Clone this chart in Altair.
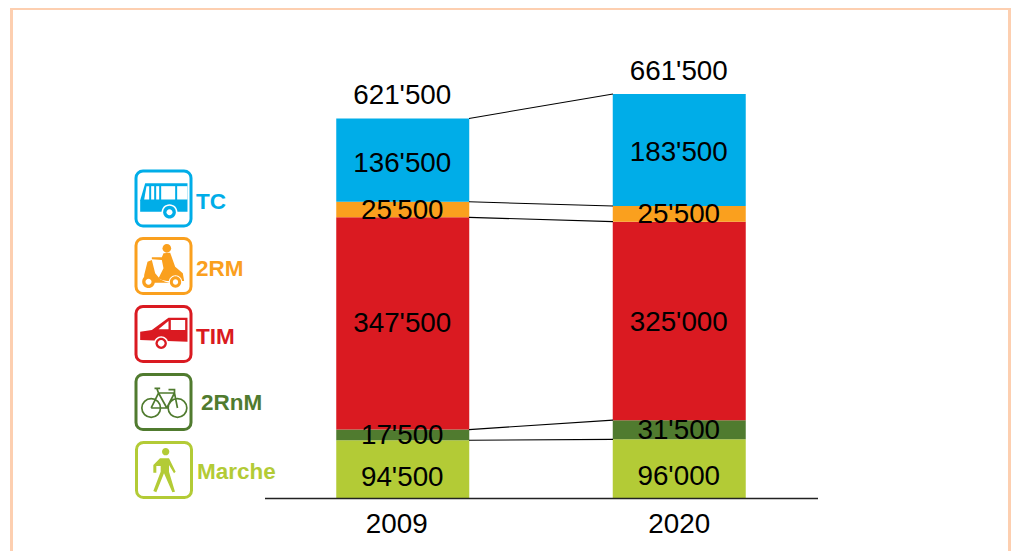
import altair as alt
import pandas as pd

years = ["2009", "2020"]
modes = ["Marche", "2RnM", "TIM", "2RM", "TC"]
colors = ["#B3CB36", "#507B2F", "#DA1A21", "#FAA01E", "#00ADE8"]
values_2009 = [94500, 17500, 347500, 25500, 136500]
values_2020 = [96000, 31500, 325000, 25500, 183500]
totals = [621500, 661500]
label_2009 = ["94'500", "17'500", "347'500", "25'500", "136'500"]
label_2020 = ["96'000", "31'500", "325'000", "25'500", "183'500"]
total_labels = ["621'500", "661'500"]

FONT = "Liberation Sans"
FS = 27.8

rows = []
for year, vals, labs in [("2009", values_2009, label_2009), ("2020", values_2020, label_2020)]:
    base = 0
    for mode, v, lab in zip(modes, vals, labs):
        rows.append(dict(year=year, mode=mode, start=base, end=base + v, mid=base + v / 2, label=lab))
        base += v
df = pd.DataFrame(rows)

tops_2009 = df[df.year == "2009"].end.tolist()
tops_2020 = df[df.year == "2020"].end.tolist()
links = pd.DataFrame({"a": tops_2009, "b": tops_2020})
df_tot = pd.DataFrame({"year": years, "total": totals, "label": total_labels})

x_scale = alt.Scale(domain=years, range=[256.5, 809.5], paddingInner=0.519, paddingOuter=0.2595)
y_scale = alt.Scale(domain=[0, 661500], range=[490, 86], nice=False, zero=False)
x_enc = alt.X("year:N", scale=x_scale, title=None,
              axis=alt.Axis(labelFontSize=FS, labelFont=FONT, labelColor="#000000", labelAngle=0,
                            labelPadding=12, ticks=False, domainColor="#222222", domainWidth=1.3,
                            labelOffset=alt.ExprRef("datum.value == '2009' ? -6 : 0"),
                            grid=False, zindex=1))
y_enc = alt.Y("start:Q", scale=y_scale, axis=None, title=None)

layers = []
dummy = pd.DataFrame({"k": [0]})

# frame: left, top and right sides; the bottom lies outside the picture
FRAME = "#FDCFB0"
for kw in [dict(x=alt.value(3.5), y=alt.value(0.5), y2=alt.value(543)),
           dict(x=alt.value(1001.5), y=alt.value(0.5), y2=alt.value(543)),
           dict(x=alt.value(2), x2=alt.value(1003), y=alt.value(0.5))]:
    layers.append(alt.Chart(dummy).mark_rule(color=FRAME, strokeWidth=3).encode(**kw))

# bars
layers.append(alt.Chart(df).mark_bar(opacity=1).encode(
    x=x_enc, y=y_enc, y2="end:Q",
    color=alt.Color("mode:N", scale=alt.Scale(domain=modes, range=colors), legend=None)))

# connectors
layers.append(alt.Chart(links).mark_rule(color="#000000", strokeWidth=1.1).encode(
    x=alt.value(461), x2=alt.value(605),
    y=alt.Y("a:Q", scale=y_scale, axis=None, title=None), y2="b:Q"))

# value labels
offsets_2009 = {"Marche": 9, "2RnM": 1, "TIM": 1, "2RM": 1, "TC": 4}
offsets_2020 = {"Marche": 8, "2RnM": 1.5, "TIM": 2, "2RM": 1, "TC": 2.5}
for m in modes:
    for yr, off in [("2009", offsets_2009), ("2020", offsets_2020)]:
        layers.append(alt.Chart(df[(df["mode"] == m) & (df.year == yr)]).mark_text(
            font=FONT, fontSize=FS, color="#000000", dx=-0.5, dy=off[m], baseline="middle").encode(
            x=x_enc,
            y=alt.Y("mid:Q", scale=y_scale, axis=None, title=None),
            text="label:N"))
layers.append(alt.Chart(df_tot).mark_text(
    font=FONT, fontSize=FS, color="#000000", dx=-0.5, dy=-22, baseline="middle").encode(
    x=x_enc,
    y=alt.Y("total:Q", scale=y_scale, axis=None, title=None),
    text="label:N"))


def circ(cx, cy, r):
    return f"M{cx-r},{cy}A{r},{r} 0 1 0 {cx+r},{cy}A{r},{r} 0 1 0 {cx-r},{cy}Z"


WHITE = "#FFFFFF"
BUS, SCO, CAR, BIK, WAL = "#00ADE8", "#FAA01E", "#DA1A21", "#507B2F", "#B3CB36"
# glyph paths in a local box of about +-88 units, centred on the icon
glyphs = {
    "TC": (BUS, [
        ("M-70,40L-70,5L-55,-46L72,-46L72,40Z", BUS, False),
        ("M-51,-37L-43,-37L-43,3L-58,3Z", WHITE, False),
        ("M-37,-37L-28,-37L-28,3L-37,3Z", WHITE, False),
        ("M-22,-37L-13,-37L-13,3L-22,3Z", WHITE, False),
        ("M-7,-37L35,-37L35,3L-7,3Z", WHITE, False),
        ("M41,-37L72,-37L72,3L41,3Z", WHITE, False),
        (circ(18, 41, 24), WHITE, False),
        (circ(18, 41, 19), BUS, False),
        (circ(18, 41, 9), WHITE, False),
    ]),
    "2RM": (SCO, [
        (circ(10, -53, 13), SCO, False),
        ("M0,-38L20,-40L35,2L58,22L62,45L10,45L-5,42L-15,37L0,7L-5,-18L-35,-20L-35,-26L-5,-26Z", SCO, False),
        ("M-58,27L-48,-13L-35,-18L-25,22L-10,40L5,47L20,50L-58,50Z", SCO, False),
        (circ(-45, 47, 19), SCO, False),
        (circ(-45, 47, 9), WHITE, False),
        (circ(36, 48, 20), WHITE, False),
        (circ(36, 48, 17), SCO, False),
        (circ(36, 48, 8), WHITE, False),
    ]),
    "TIM": (CAR, [
        ("M-70,-7L-35,-12L15,-49L72,-49L72,23L-70,18Z", CAR, False),
        ("M-15,-14L15,-39L15,-14Z", WHITE, False),
        ("M22,-42L65,-42L65,-12L22,-12Z", WHITE, False),
        (circ(-7, 28, 21), WHITE, False),
        (circ(-7, 28, 17), CAR, False),
        (circ(-7, 28, 10), WHITE, False),
    ]),
    "2RnM": (BIK, [
        (circ(-37, 18, 28) + circ(42, 18, 28)
         + "M-37,18L-15,-27L33,-27L42,18M-15,-27L10,18L-37,18M10,18L33,-27"
           "M-27,-41L-10,-41M-15,-27L-20,-41M15,-37L33,-37L33,-27", None, True),
    ]),
    "Marche": (WAL, [
        (circ(5, -55, 11), WAL, False),
        ("M-12,-35L15,-35L35,5L30,10L15,-15L15,5L33,65L25,67L0,10L-23,67L-32,63L-10,5L-10,-12L-23,-12L-23,8L-32,8L-32,-15Z", WAL, False),
    ]),
}

# icons and their captions, top to bottom
icon_modes = ["TC", "2RM", "TIM", "2RnM", "Marche"]
icon_center_y = [190.5, 258, 326, 394, 462]
icon_center_x = [155.5, 155.5, 155.5, 155.5, 156]
text_x = [188, 188, 188, 193, 189]
text_y = [194, 261, 329, 394.5, 464]
for m, cy, cx, tx, ty in zip(icon_modes, icon_center_y, icon_center_x, text_x, text_y):
    col, parts = glyphs[m]
    layers.append(alt.Chart(dummy).mark_rect(
        fill=WHITE, stroke=col, strokeWidth=3, cornerRadius=7).encode(
        x=alt.value(cx - 27.5), x2=alt.value(cx + 27.5),
        y=alt.value(cy - 27.5), y2=alt.value(cy + 27.5)))
    for path, fill, stroked in parts:
        if stroked:
            mk = alt.Chart(dummy).mark_point(shape=path, size=0.444, filled=False, stroke=col, strokeWidth=1.7, opacity=1)
        else:
            mk = alt.Chart(dummy).mark_point(shape=path, size=0.444, filled=True, fill=fill, opacity=1)
        layers.append(mk.encode(x=alt.value(cx), y=alt.value(cy)))
    layers.append(alt.Chart(dummy).mark_text(
        text=m, font=FONT, fontSize=22.5, fontWeight="bold", color=col, align="left", baseline="middle").encode(
        x=alt.value(tx), y=alt.value(ty)))

chart = alt.layer(*layers).properties(
    width=1003, height=490,
    padding={"left": 0, "top": 0, "right": 0, "bottom": 53},
    autosize=alt.AutoSizeParams(type="none"), background="#FFFFFF"
).configure_view(stroke=None)

chart.save("out.html", embed_options={"renderer": "svg", "actions": False})
